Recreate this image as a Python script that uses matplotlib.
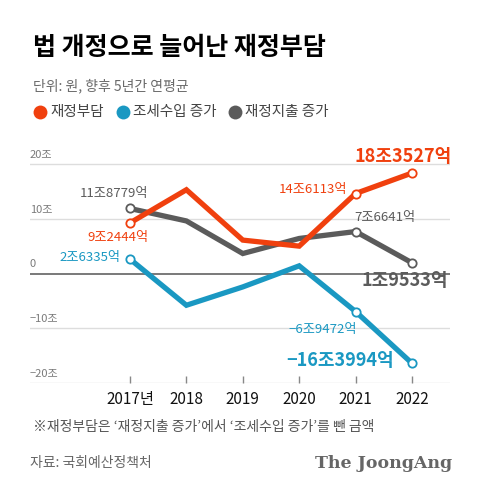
import matplotlib
matplotlib.use("Agg")
import matplotlib.pyplot as plt
from matplotlib.lines import Line2D

plt.rcParams['font.family'] = ['Noto Sans CJK KR', 'DejaVu Sans']

years = [2017, 2018, 2019, 2020, 2021, 2022]
year_labels = ['2017년', '2018', '2019', '2020', '2021', '2022']
burden = [9.2444, 15.3, 6.1, 5.0, 14.6113, 18.3527]        # 재정부담
tax = [2.6335, -5.8, -2.45, 1.4, -6.9472, -16.3994]          # 조세수입 증가
spend = [11.8779, 9.6, 3.65, 6.4, 7.6641, 1.9533]            # 재정지출 증가
yticks = [20, 10, 0, -10, -20]
ytick_labels = ['20조', '10조', '0', '−10조', '−20조']

RED = '#F0400E'
BLUE = '#1A98C2'
GRAY = '#5B5B5B'

W, H = 480, 492
fig = plt.figure(figsize=(W / 100, H / 100), dpi=100)

def fx(px):
    return px / W

def fy(py):
    return 1 - py / H

ax = fig.add_axes([fx(30), fy(383), fx(420), (383 - 150) / H])
ax.set_xlim(2015.227, 2022.674)
ax.set_ylim(-20, 22.56)
for s in ax.spines.values():
    s.set_visible(False)
ax.set_yticks([])
ax.set_xticks(years)
ax.set_xticklabels(year_labels, fontsize=11, color='#111111')
ax.tick_params(axis='x', direction='in', length=5, width=1, color='#888888', pad=6)

for v, lbl in zip(yticks, ytick_labels):
    if v == 0:
        ax.axhline(v, color='#6E6E6E', lw=1.3, zorder=1)
    else:
        ax.axhline(v, color='#DDDDDD', lw=1.0, zorder=1)
    ax.annotate(lbl, xy=(0, v), xycoords=('axes fraction', 'data'),
                xytext=(0, 3), textcoords='offset points', ha='left', va='bottom',
                fontsize=8, color='#7A7A7A')

mk = dict(marker='o', markersize=6, markerfacecolor='white', markeredgewidth=1.3,
          markevery=[0, 4, 5], solid_joinstyle='miter')
ax.plot(years, tax, color=BLUE, lw=3.8, zorder=3, **mk)
ax.plot(years, spend, color=GRAY, lw=3.8, zorder=4, **mk)
ax.plot(years, burden, color=RED, lw=3.8, zorder=5, **mk)

def t(px, py, text, **kw):
    fig.text(fx(px), fy(py), text, **kw)

# value labels (pixel positions measured from top-left)
t(148, 193, '11조8779억', color=GRAY, fontsize=9.5, ha='right', va='center')
t(148, 238, '9조2444억', color=RED, fontsize=9.5, ha='right', va='center')
t(120, 258, '2조6335억', color=BLUE, fontsize=9.5, ha='right', va='center')
t(347, 190, '14조6113억', color=RED, fontsize=9.5, ha='right', va='center')
t(385, 218, '7조6641억', color=GRAY, fontsize=9.5, ha='center', va='center')
t(403, 157, '18조3527억', color=RED, fontsize=13, fontweight='bold', ha='center', va='center')
t(405, 281, '1조9533억', color=GRAY, fontsize=13, fontweight='bold', ha='center', va='center')
t(357, 329, '−6조9472억', color=BLUE, fontsize=9.5, ha='right', va='center')
t(340, 361, '−16조3994억', color=BLUE, fontsize=13, fontweight='bold', ha='center', va='center')

# header
t(33, 48, '법 개정으로 늘어난 재정부담', fontsize=18, fontweight='black', color='#000000',
  ha='left', va='center')
t(33, 86, '단위: 원, 향후 5년간 연평균', fontsize=10, color='#6A6A6A', ha='left', va='center')

legend_items = [('재정부담', RED, 40), ('조세수입 증가', BLUE, 123), ('재정지출 증가', GRAY, 235)]
for name, col, cx in legend_items:
    fig.add_artist(Line2D([fx(cx)], [fy(112)], marker='o', markersize=10, color=col,
                          markeredgewidth=0, transform=fig.transFigure))
    t(cx + 10, 112, name, fontsize=10.5, color='#444444', ha='left', va='center')

# footer
t(33, 427, '※재정부담은 ‘재정지출 증가’에서 ‘조세수입 증가’를 뺀 금액', fontsize=10,
  color='#555555', ha='left', va='center')
t(30, 463, '자료: 국회예산정책처', fontsize=10, color='#666666', ha='left', va='center')
t(452, 463, 'The JoongAng', fontsize=12.5, fontweight='bold', color='#666666', ha='right',
  va='center', family='DejaVu Serif')

fig.savefig('out.png', dpi=100)
